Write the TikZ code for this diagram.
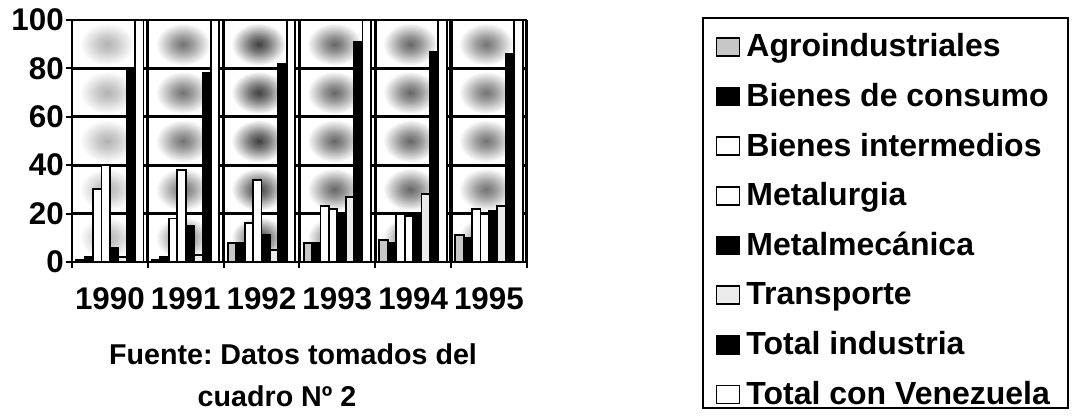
\documentclass[tikz,border=0pt]{standalone}
\usepackage{fontspec}
\setmainfont{Liberation Sans}
\usetikzlibrary{positioning}
\frenchspacing
\newcommand\axfont{\fontsize{23.5}{27}\selectfont\bfseries}
\newcommand\legfont{\fontsize{24}{28}\selectfont\bfseries}
\newcommand\srcfont{\fontsize{21.5}{26}\selectfont\bfseries}
\colorlet{blotc}{black!50}
\pgfdeclareradialshading[blotc]{blot}{\pgfpoint{0bp}{0bp}}{color(0bp)=(blotc); color(8bp)=(blotc!70!white); color(22bp)=(white); color(50bp)=(white)}
\begin{document}
\begin{tikzpicture}[x=0.75pt, y=0.75pt, node distance=37.23pt,
    bar/.style={draw=black, line width=1.4pt},
    barwht/.style={bar, fill=white},
    barblk/.style={bar, fill=black},
    baragro/.style={bar, fill=black!22},
    bartrans/.style={bar, fill=black!8},
    gridline/.style={line width=2.3pt},
    legmark/.style={draw, line width=1.2pt, minimum width=17pt, minimum height=13.5pt, inner sep=0}]
    \useasboundingbox (0,0) rectangle (1077,420);

    % plot area, x in px, y in percent
    \begin{scope}[shift={(72,158)}, y=1.815pt]
        \foreach \g/\k in {0/30,1/55,2/75,3/60,4/60,5/55} {
            \colorlet{blotc}{black!\k}
            \foreach \v in {0,20,...,80}
                \shade[shading=blot] ({\g*75.8+4},\v) rectangle ({\g*75.8+66},\v+20);
        }
        \foreach \v in {20,40,60,80}
            \draw[gridline] (0,\v) -- (455,\v);
        \foreach \g in {1,...,6}
            \draw[gridline] ({\g*75.8},0) -- ({\g*75.8},100);
        \draw[line width=1pt] (0,100) -- (455,100);

        \foreach \ha/\hb/\hc/\hd/\he/\hf/\hg/\hh [count=\g from 0] in
            {1/2/30/40/6/2/80/100, 1/2/18/38/15/3/78/100, 8/8/16/34/11/5/82/100,
             8/8/23/22/20/27/91/100, 9/8/20/19/20/28/87/100, 11/10/22/20/21/23/86/100}
            \foreach \h/\s [count=\i from 0] in {\ha/baragro,\hb/barblk,\hc/barwht,\hd/barwht,\he/barblk,\hf/bartrans,\hg/barblk,\hh/barwht}
                \draw[\s] ({\g*75.8+4.2+\i*8.42},0) rectangle +(8.42,\h);

        % axes
        \draw[line width=1.5pt] (0,100) -- (0,0) -- (455,0);
        \foreach \v in {0,20,...,100} {
            \draw[line width=1.5pt] (-6,\v) -- (0,\v);
            \node[anchor=east, inner sep=0, font=\axfont] (ylab\v) at (-8,\v) {\v};
        }
        \foreach \g in {0,...,6}
            \draw[line width=1.5pt] ({\g*75.8},0) -- ({\g*75.8},-2.6);
        \foreach \yr [count=\g from 0] in {1990,...,1995}
            \node[inner sep=0, font=\axfont] (yr\yr) at ({\g*75.8+37.9},-15.3) {\yr};
    \end{scope}

    \node[anchor=base, inner sep=0, font=\srcfont] (src1) at (293,55) {Fuente: Datos tomados del};
    \node[anchor=base, inner sep=0, font=\srcfont] (src2) at (277,13) {cuadro Nº 2};

    % legend
    \draw[line width=1.5pt] (703,402) rectangle (1068,12);
    \coordinate (m0) at (728,422.64);
    \foreach \f/\txt [count=\i, remember=\i as \j (initially 0)] in
        {black!22/Agroindustriales, black/Bienes de consumo, white/Bienes intermedios,
         white/Metalurgia, black/Metalmecánica, black!8/Transporte,
         black/Total industria, white/Total con Venezuela} {
        \node[legmark, fill=\f, below of=m\j] (m\i) {};
        \node[anchor=base west, inner sep=0, font=\legfont] (l\i) at ([xshift=4.5pt]m\i.south east) {\txt};
    }
\end{tikzpicture}
\end{document}
